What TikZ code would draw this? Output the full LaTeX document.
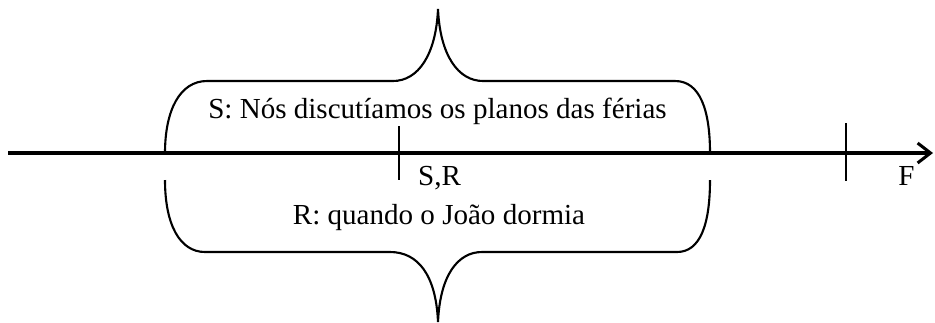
\documentclass[tikz,border=0pt]{standalone}
\usepackage{fontspec}
\setmainfont{Liberation Serif}
\usetikzlibrary{arrows.meta}

\tikzset{
  brace/.style={line width=1.8pt},
  label/.style={font=\fontsize{24.8}{30}\selectfont, inner sep=0pt},
}

\begin{document}
\begin{tikzpicture}[x=0.03cm, y=-0.03cm, >={Straight Barb[length=11pt, width=17pt]}]
    \useasboundingbox (0,0) rectangle (935,322);

    % Time axis
    \coordinate (A) at (8,153);
    \coordinate (B) at (933,153);
    \draw[->, line width=2.6pt] (A) -- (B);

    % Ticks
    \draw[line width=1.7pt] (399,126) -- (399,180);
    \draw[line width=1.7pt] (846,123) -- (846,181);
    \node[label, anchor=base west] (sr) at (418,185) {S,R};
    \node[label, anchor=base west] (f) at (898,185) {F};

    % Upper brace
    \draw[brace] (165,153) .. controls (165,110) and (180,81) .. (207,81)
        -- (393,81) .. controls (418,81) and (436,55) .. (438,9)
        .. controls (440,55) and (458,81) .. (483,81)
        -- (675,81) .. controls (700,81) and (710,110) .. (710,153);
    \node[label, anchor=base] (s) at (437.5,118) {S: Nós discutíamos os planos das férias};

    % Lower brace
    \draw[brace] (165,180) .. controls (165,225) and (180,252) .. (205,252)
        -- (390,252) .. controls (418,252) and (436,275) .. (438,322)
        .. controls (440,275) and (458,252) .. (482,252)
        -- (677,252) .. controls (700,252) and (710,225) .. (710,180);
    \node[label, anchor=base] (r) at (439,224) {R: quando o João dormia};
\end{tikzpicture}
\end{document}
